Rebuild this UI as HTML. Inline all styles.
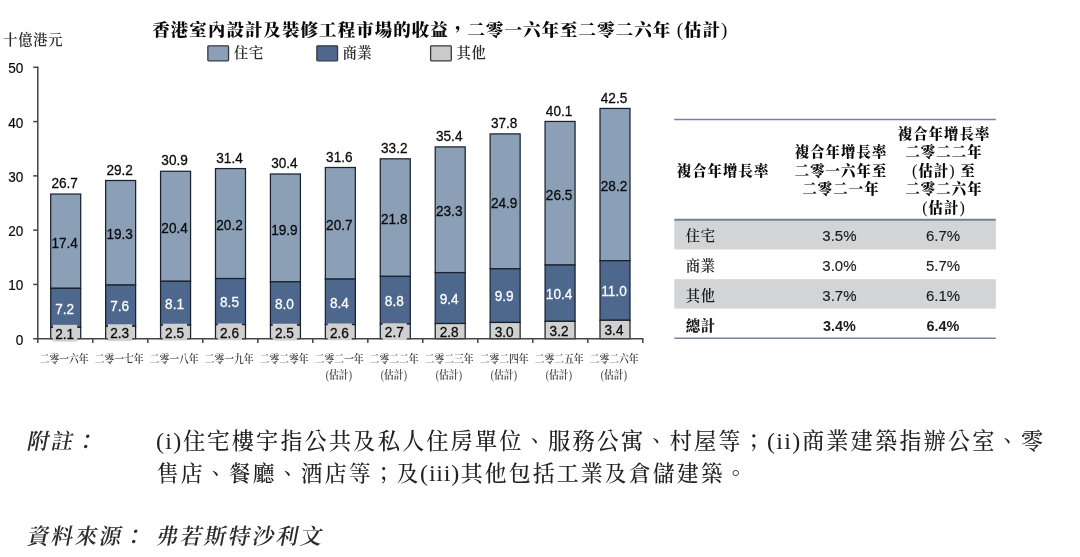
<!DOCTYPE html>
<html lang="zh-Hant">
<head>
<meta charset="utf-8">
<title>香港室內設計及裝修工程市場的收益</title>
<style>html,body{margin:0;padding:0;background:#fff}body{width:1080px;height:557px;position:relative;overflow:hidden}svg text{white-space:pre}</style>
</head>
<body>
<svg width="1080" height="557" viewBox="0 0 1080 557" style="position:absolute;left:0;top:0">
<g stroke="#1a2230" stroke-width="1.25">
<rect x="50.70" y="194.04" width="30.00" height="94.27" fill="#8ba0b7"/>
<rect x="50.70" y="288.31" width="30.00" height="39.01" fill="#4d678d"/>
<rect x="50.70" y="327.32" width="30.00" height="11.38" fill="#d0d0d0"/>
<rect x="105.63" y="180.49" width="30.00" height="104.57" fill="#8ba0b7"/>
<rect x="105.63" y="285.06" width="30.00" height="41.18" fill="#4d678d"/>
<rect x="105.63" y="326.24" width="30.00" height="12.46" fill="#d0d0d0"/>
<rect x="160.56" y="171.28" width="30.00" height="109.99" fill="#8ba0b7"/>
<rect x="160.56" y="281.27" width="30.00" height="43.89" fill="#4d678d"/>
<rect x="160.56" y="325.15" width="30.00" height="13.55" fill="#d0d0d0"/>
<rect x="215.49" y="168.57" width="30.00" height="109.99" fill="#8ba0b7"/>
<rect x="215.49" y="278.56" width="30.00" height="46.05" fill="#4d678d"/>
<rect x="215.49" y="324.61" width="30.00" height="14.09" fill="#d0d0d0"/>
<rect x="270.42" y="173.99" width="30.00" height="107.82" fill="#8ba0b7"/>
<rect x="270.42" y="281.81" width="30.00" height="43.34" fill="#4d678d"/>
<rect x="270.42" y="325.15" width="30.00" height="13.55" fill="#d0d0d0"/>
<rect x="325.35" y="167.49" width="30.00" height="111.61" fill="#8ba0b7"/>
<rect x="325.35" y="279.10" width="30.00" height="45.51" fill="#4d678d"/>
<rect x="325.35" y="324.61" width="30.00" height="14.09" fill="#d0d0d0"/>
<rect x="380.28" y="158.82" width="30.00" height="117.57" fill="#8ba0b7"/>
<rect x="380.28" y="276.39" width="30.00" height="47.68" fill="#4d678d"/>
<rect x="380.28" y="324.07" width="30.00" height="14.63" fill="#d0d0d0"/>
<rect x="435.21" y="146.90" width="30.00" height="125.70" fill="#8ba0b7"/>
<rect x="435.21" y="272.60" width="30.00" height="50.93" fill="#4d678d"/>
<rect x="435.21" y="323.53" width="30.00" height="15.17" fill="#d0d0d0"/>
<rect x="490.14" y="133.90" width="30.00" height="134.91" fill="#8ba0b7"/>
<rect x="490.14" y="268.81" width="30.00" height="53.64" fill="#4d678d"/>
<rect x="490.14" y="322.45" width="30.00" height="16.25" fill="#d0d0d0"/>
<rect x="545.07" y="121.44" width="30.00" height="143.58" fill="#8ba0b7"/>
<rect x="545.07" y="265.02" width="30.00" height="56.35" fill="#4d678d"/>
<rect x="545.07" y="321.36" width="30.00" height="17.34" fill="#d0d0d0"/>
<rect x="600.00" y="108.44" width="30.00" height="152.25" fill="#8ba0b7"/>
<rect x="600.00" y="260.68" width="30.00" height="59.60" fill="#4d678d"/>
<rect x="600.00" y="320.28" width="30.00" height="18.42" fill="#d0d0d0"/>
</g>
<g stroke="#454545" stroke-width="1.5" fill="none">
<path d="M37.80 66.60V343.10"/>
<path d="M33.20 338.70H643.50"/>
<path d="M33.20 284.42H37.80"/>
<path d="M33.20 230.14H37.80"/>
<path d="M33.20 175.86H37.80"/>
<path d="M33.20 121.58H37.80"/>
<path d="M33.20 67.30H37.80"/>
<path d="M92.80 338.70V343.10"/>
<path d="M147.80 338.70V343.10"/>
<path d="M202.80 338.70V343.10"/>
<path d="M257.80 338.70V343.10"/>
<path d="M312.80 338.70V343.10"/>
<path d="M367.80 338.70V343.10"/>
<path d="M422.80 338.70V343.10"/>
<path d="M477.80 338.70V343.10"/>
<path d="M532.80 338.70V343.10"/>
<path d="M587.80 338.70V343.10"/>
<path d="M642.80 338.70V343.10"/>
</g>
<rect x="53.00" y="324.81" width="24.2" height="16.8" fill="#d0d0d0"/>
<rect x="107.93" y="324.27" width="24.2" height="16.8" fill="#d0d0d0"/>
<rect x="162.86" y="323.73" width="24.2" height="16.8" fill="#d0d0d0"/>
<rect x="217.79" y="323.46" width="24.2" height="16.8" fill="#d0d0d0"/>
<rect x="272.72" y="323.73" width="24.2" height="16.8" fill="#d0d0d0"/>
<rect x="327.65" y="323.46" width="24.2" height="16.8" fill="#d0d0d0"/>
<rect x="382.58" y="323.19" width="24.2" height="16.8" fill="#d0d0d0"/>
<g font-family="'Liberation Sans','Noto Sans CJK TC',sans-serif" font-size="14.4" fill="#0a0a0a" stroke="#0a0a0a" stroke-width="0.28" text-anchor="middle">
<text transform="translate(64.70 188.14) scale(0.945 1)">26.7</text>
<text transform="translate(64.70 247.78) scale(0.945 1)">17.4</text>
<text transform="translate(64.70 313.62) scale(0.945 1)" fill="#fff" stroke="#fff">7.2</text>
<text transform="translate(64.70 339.01) scale(0.945 1)">2.1</text>
<text transform="translate(119.63 174.59) scale(0.945 1)">29.2</text>
<text transform="translate(119.63 239.38) scale(0.945 1)">19.3</text>
<text transform="translate(119.63 311.45) scale(0.945 1)" fill="#fff" stroke="#fff">7.6</text>
<text transform="translate(119.63 338.47) scale(0.945 1)">2.3</text>
<text transform="translate(174.56 165.38) scale(0.945 1)">30.9</text>
<text transform="translate(174.56 232.61) scale(0.945 1)">20.4</text>
<text transform="translate(174.56 309.01) scale(0.945 1)" fill="#fff" stroke="#fff">8.1</text>
<text transform="translate(174.56 337.93) scale(0.945 1)">2.5</text>
<text transform="translate(229.49 162.67) scale(0.945 1)">31.4</text>
<text transform="translate(229.49 230.44) scale(0.945 1)">20.2</text>
<text transform="translate(229.49 307.39) scale(0.945 1)" fill="#fff" stroke="#fff">8.5</text>
<text transform="translate(229.49 337.66) scale(0.945 1)">2.6</text>
<text transform="translate(284.42 168.09) scale(0.945 1)">30.4</text>
<text transform="translate(284.42 234.50) scale(0.945 1)">19.9</text>
<text transform="translate(284.42 309.28) scale(0.945 1)" fill="#fff" stroke="#fff">8.0</text>
<text transform="translate(284.42 337.93) scale(0.945 1)">2.5</text>
<text transform="translate(339.35 161.59) scale(0.945 1)">31.6</text>
<text transform="translate(339.35 229.63) scale(0.945 1)">20.7</text>
<text transform="translate(339.35 307.66) scale(0.945 1)" fill="#fff" stroke="#fff">8.4</text>
<text transform="translate(339.35 337.66) scale(0.945 1)">2.6</text>
<text transform="translate(394.28 152.92) scale(0.945 1)">33.2</text>
<text transform="translate(394.28 223.94) scale(0.945 1)">21.8</text>
<text transform="translate(394.28 306.03) scale(0.945 1)" fill="#fff" stroke="#fff">8.8</text>
<text transform="translate(394.28 337.39) scale(0.945 1)">2.7</text>
<text transform="translate(449.21 141.00) scale(0.945 1)">35.4</text>
<text transform="translate(449.21 216.08) scale(0.945 1)">23.3</text>
<text transform="translate(449.21 303.87) scale(0.945 1)" fill="#fff" stroke="#fff">9.4</text>
<text transform="translate(449.21 337.11) scale(0.945 1)">2.8</text>
<text transform="translate(504.14 128.00) scale(0.945 1)">37.8</text>
<text transform="translate(504.14 207.95) scale(0.945 1)">24.9</text>
<text transform="translate(504.14 301.43) scale(0.945 1)" fill="#fff" stroke="#fff">9.9</text>
<text transform="translate(504.14 336.57) scale(0.945 1)">3.0</text>
<text transform="translate(559.07 115.54) scale(0.945 1)">40.1</text>
<text transform="translate(559.07 199.83) scale(0.945 1)">26.5</text>
<text transform="translate(559.07 298.99) scale(0.945 1)" fill="#fff" stroke="#fff">10.4</text>
<text transform="translate(559.07 336.03) scale(0.945 1)">3.2</text>
<text transform="translate(614.00 102.54) scale(0.945 1)">42.5</text>
<text transform="translate(614.00 190.89) scale(0.945 1)">28.2</text>
<text transform="translate(614.00 296.28) scale(0.945 1)" fill="#fff" stroke="#fff">11.0</text>
<text transform="translate(614.00 335.49) scale(0.945 1)">3.4</text>
</g>
<g font-family="'Liberation Sans','Noto Sans CJK TC',sans-serif" font-size="14.4" fill="#0a0a0a" stroke="#0a0a0a" stroke-width="0.2" text-anchor="end">
<text transform="translate(23.3 345.10) scale(0.945 1)">0</text>
<text transform="translate(23.3 290.42) scale(0.945 1)">10</text>
<text transform="translate(23.3 236.14) scale(0.945 1)">20</text>
<text transform="translate(23.3 181.86) scale(0.945 1)">30</text>
<text transform="translate(23.3 127.58) scale(0.945 1)">40</text>
<text transform="translate(23.3 73.30) scale(0.945 1)">50</text>
</g>
<g font-family="'Liberation Serif','Noto Serif CJK TC','Noto Serif CJK SC',serif" font-size="11.6" font-weight="600" fill="#383838" text-anchor="middle">
<text transform="translate(64.10 362.8) scale(0.845 1)">二零一六年</text>
<text transform="translate(119.10 362.8) scale(0.845 1)">二零一七年</text>
<text transform="translate(174.10 362.8) scale(0.845 1)">二零一八年</text>
<text transform="translate(229.10 362.8) scale(0.845 1)">二零一九年</text>
<text transform="translate(284.10 362.8) scale(0.845 1)">二零二零年</text>
<text transform="translate(339.10 362.8) scale(0.845 1)">二零二一年</text>
<text transform="translate(338.80 379) scale(0.85 1)"><tspan font-weight="400">(</tspan>估計<tspan font-weight="400">)</tspan></text>
<text transform="translate(394.10 362.8) scale(0.845 1)">二零二二年</text>
<text transform="translate(393.80 379) scale(0.85 1)"><tspan font-weight="400">(</tspan>估計<tspan font-weight="400">)</tspan></text>
<text transform="translate(449.10 362.8) scale(0.845 1)">二零二三年</text>
<text transform="translate(448.80 379) scale(0.85 1)"><tspan font-weight="400">(</tspan>估計<tspan font-weight="400">)</tspan></text>
<text transform="translate(504.10 362.8) scale(0.845 1)">二零二四年</text>
<text transform="translate(503.80 379) scale(0.85 1)"><tspan font-weight="400">(</tspan>估計<tspan font-weight="400">)</tspan></text>
<text transform="translate(559.10 362.8) scale(0.845 1)">二零二五年</text>
<text transform="translate(558.80 379) scale(0.85 1)"><tspan font-weight="400">(</tspan>估計<tspan font-weight="400">)</tspan></text>
<text transform="translate(614.10 362.8) scale(0.845 1)">二零二六年</text>
<text transform="translate(613.80 379) scale(0.85 1)"><tspan font-weight="400">(</tspan>估計<tspan font-weight="400">)</tspan></text>
</g>
<g font-family="'Liberation Serif','Noto Serif CJK TC','Noto Serif CJK SC',serif" fill="#2a2a2a" font-weight="600">
<text y="44.80" ><tspan x="3.17" font-size="14.25" letter-spacing="0.75">十億港元</tspan></text>
<rect x="207.85" y="45.85" width="20.7" height="15" rx="0.8" fill="#8ba0b7" stroke="#333945" stroke-width="1.3"/>
<text y="58.40" ><tspan x="233.97" font-size="14.25" letter-spacing="0.75">住宅</tspan></text>
<rect x="316.85" y="45.85" width="20.7" height="15" rx="0.8" fill="#4d678d" stroke="#333945" stroke-width="1.3"/>
<text y="58.40" ><tspan x="342.38" font-size="14.25" letter-spacing="0.75">商業</tspan></text>
<rect x="430.60" y="45.85" width="20.7" height="15" rx="0.8" fill="#cacaca" stroke="#333945" stroke-width="1.3"/>
<text y="58.40" ><tspan x="456.38" font-size="14.25" letter-spacing="0.75">其他</tspan></text>
</g>
<g font-family="'Liberation Serif','Noto Serif CJK TC','Noto Serif CJK SC',serif" font-weight="900" fill="#0a0a0a">
<text y="35.80" ><tspan x="152.31" font-size="17.53" letter-spacing="1.02">香港室內設計及裝修工程市場的收益，二零一六年至二零二六年</tspan><tspan x="671.50" font-size="19.00" font-weight="400" letter-spacing="0.60"> (</tspan><tspan x="683.99" font-size="17.53" letter-spacing="1.02">估計</tspan><tspan x="720.88" font-size="19.00" font-weight="400" letter-spacing="0.60">)</tspan></text>
</g>
<rect x="674.3" y="220" width="321.50" height="29.4" fill="#d3d4d6"/>
<rect x="674.3" y="279.2" width="321.50" height="29.4" fill="#d3d4d6"/>
<path d="M674.3 119.4H995.8M674.3 338.3H995.8" stroke="#74839a" stroke-width="1.5"/>
<path d="M674.3 219.8H995.8" stroke="#74839a" stroke-width="2"/>
<g font-family="'Liberation Serif','Noto Serif CJK TC','Noto Serif CJK SC',serif" font-weight="900" fill="#0a0a0a">
<text y="176.00" ><tspan x="676.74" font-size="14.37" letter-spacing="1.08">複合年增長率</tspan></text>
<text y="157.00" ><tspan x="794.69" font-size="14.37" letter-spacing="1.08">複合年增長率</tspan></text>
<text y="175.55" ><tspan x="794.69" font-size="14.37" letter-spacing="1.08">二零一六年至</tspan></text>
<text y="194.10" ><tspan x="802.42" font-size="14.37" letter-spacing="1.08">二零二一年</tspan></text>
<text y="138.50" ><tspan x="897.69" font-size="14.37" letter-spacing="1.08">複合年增長率</tspan></text>
<text y="157.05" ><tspan x="905.42" font-size="14.37" letter-spacing="1.08">二零二二年</tspan></text>
<text y="175.60" ><tspan x="912.10" font-size="16.00" font-weight="400" letter-spacing="0.90">(</tspan><tspan x="918.42" font-size="14.37" letter-spacing="1.08">估計</tspan><tspan x="949.23" font-size="16.00" font-weight="400" letter-spacing="0.90">) </tspan><tspan x="960.44" font-size="14.37" letter-spacing="1.08">至</tspan></text>
<text y="194.15" ><tspan x="905.42" font-size="14.37" letter-spacing="1.08">二零二六年</tspan></text>
<text y="212.70" ><tspan x="922.27" font-size="16.00" font-weight="400" letter-spacing="0.90">(</tspan><tspan x="928.59" font-size="14.37" letter-spacing="1.08">估計</tspan><tspan x="959.40" font-size="16.00" font-weight="400" letter-spacing="0.90">)</tspan></text>
</g>
<text y="240.90" font-family="'Liberation Serif','Noto Serif CJK TC','Noto Serif CJK SC',serif" font-weight="600" fill="#1a1a1a"><tspan x="685.67" font-size="14.25" letter-spacing="0.75">住宅</tspan></text>
<text x="839.4" y="240.85" font-family="'Liberation Sans','Noto Sans CJK TC',sans-serif" font-size="15" stroke="#1c1c1c" stroke-width="0.15" fill="#1c1c1c" text-anchor="middle">3.5%</text>
<text x="943.0" y="240.85" font-family="'Liberation Sans','Noto Sans CJK TC',sans-serif" font-size="15" stroke="#1c1c1c" stroke-width="0.15" fill="#1c1c1c" text-anchor="middle">6.7%</text>
<text y="270.90" font-family="'Liberation Serif','Noto Serif CJK TC','Noto Serif CJK SC',serif" font-weight="600" fill="#1a1a1a"><tspan x="685.67" font-size="14.25" letter-spacing="0.75">商業</tspan></text>
<text x="839.4" y="270.85" font-family="'Liberation Sans','Noto Sans CJK TC',sans-serif" font-size="15" stroke="#1c1c1c" stroke-width="0.15" fill="#1c1c1c" text-anchor="middle">3.0%</text>
<text x="943.0" y="270.85" font-family="'Liberation Sans','Noto Sans CJK TC',sans-serif" font-size="15" stroke="#1c1c1c" stroke-width="0.15" fill="#1c1c1c" text-anchor="middle">5.7%</text>
<text y="300.90" font-family="'Liberation Serif','Noto Serif CJK TC','Noto Serif CJK SC',serif" font-weight="600" fill="#1a1a1a"><tspan x="685.67" font-size="14.25" letter-spacing="0.75">其他</tspan></text>
<text x="839.4" y="300.85" font-family="'Liberation Sans','Noto Sans CJK TC',sans-serif" font-size="15" stroke="#1c1c1c" stroke-width="0.15" fill="#1c1c1c" text-anchor="middle">3.7%</text>
<text x="943.0" y="300.85" font-family="'Liberation Sans','Noto Sans CJK TC',sans-serif" font-size="15" stroke="#1c1c1c" stroke-width="0.15" fill="#1c1c1c" text-anchor="middle">6.1%</text>
<text y="330.90" font-family="'Liberation Serif','Noto Serif CJK TC','Noto Serif CJK SC',serif" font-weight="900" fill="#1a1a1a"><tspan x="685.67" font-size="14.25" letter-spacing="0.75">總計</tspan></text>
<text x="839.4" y="330.85" font-family="'Liberation Sans','Noto Sans CJK TC',sans-serif" font-weight="700" font-size="14.4" fill="#1c1c1c" text-anchor="middle">3.4%</text>
<text x="943.0" y="330.85" font-family="'Liberation Sans','Noto Sans CJK TC',sans-serif" font-weight="700" font-size="14.4" fill="#1c1c1c" text-anchor="middle">6.4%</text>
<g font-family="'Liberation Serif','Noto Serif CJK TC','Noto Serif CJK SC',serif" fill="#222" font-weight="500">
<g transform="translate(0 449.2) skewX(-11) translate(0 -449.2)" font-weight="600" fill="#2c2c2c"><text y="449.20" ><tspan x="26.32" font-size="21.96" letter-spacing="2.04">附註：</tspan></text></g>
<text y="449.20" ><tspan x="156.05" font-size="24.00" font-weight="400" letter-spacing="1.30">(i)</tspan><tspan x="182.99" font-size="22.28" letter-spacing="2.07">住宅樓宇指公共及私人住房單位、服務公寓、村屋等；</tspan><tspan x="767.00" font-size="24.00" font-weight="400" letter-spacing="1.30">(ii)</tspan><tspan x="801.91" font-size="22.28" letter-spacing="2.07">商業建築指辦公室、零</tspan></text>
<text y="481.20" ><tspan x="156.72" font-size="21.96" letter-spacing="2.04">售店、餐廳、酒店等；及</tspan><tspan x="420.10" font-size="24.00" font-weight="400" letter-spacing="0.80">(iii)</tspan><tspan x="460.71" font-size="21.96" letter-spacing="2.04">其他包括工業及倉儲建築。</tspan></text>
<g transform="translate(0 543.7) skewX(-11) translate(0 -543.7)" font-weight="600" fill="#2c2c2c"><text y="543.70" ><tspan x="26.32" font-size="21.96" letter-spacing="2.04">資料來源：</tspan></text></g>
<g transform="translate(0 543.7) skewX(-11) translate(0 -543.7)" font-weight="600" fill="#2c2c2c"><text y="543.70" ><tspan x="155.32" font-size="21.96" letter-spacing="2.04">弗若斯特沙利文</tspan></text></g>
</g>
</svg>
</body>
</html>
